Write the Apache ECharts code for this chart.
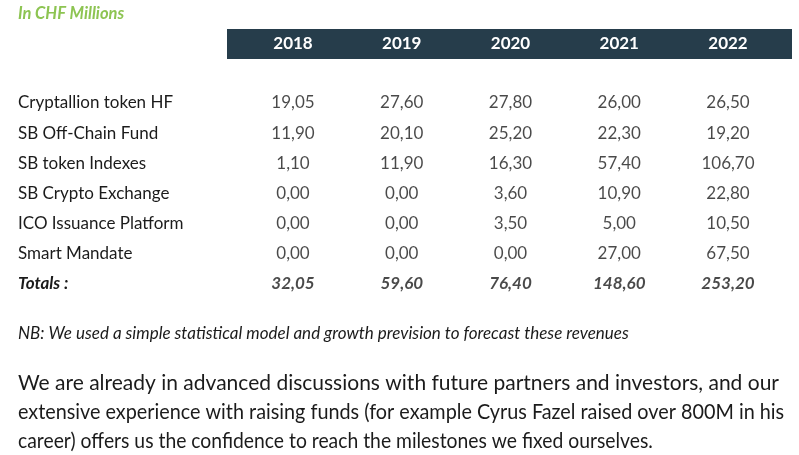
<!DOCTYPE html>
<html>
<head>
<meta charset="utf-8">
<script src="https://cdn.jsdelivr.net/npm/echarts@6/dist/echarts.min.js"></script>
<style>
  html, body { margin: 0; padding: 0; background: #fff; }
  #chart { width: 799px; height: 455px; }
</style>
</head>
<body>
<div id="chart"></div>
<script>
// table data, in CHF millions
var years = ['2018', '2019', '2020', '2021', '2022']
var rowNames = [
  'Cryptallion token HF',
  'SB Off-Chain Fund',
  'SB token Indexes',
  'SB Crypto Exchange',
  'ICO Issuance Platform',
  'Smart Mandate'
]
var cryptallionHF = [19.05, 27.6, 27.8, 26.0, 26.5]
var offChainFund = [11.9, 20.1, 25.2, 22.3, 19.2]
var tokenIndexes = [1.1, 11.9, 16.3, 57.4, 106.7]
var cryptoExchange = [0.0, 0.0, 3.6, 10.9, 22.8]
var icoPlatform = [0.0, 0.0, 3.5, 5.0, 10.5]
var smartMandate = [0.0, 0.0, 0.0, 27.0, 67.5]
var totals = [32.05, 59.6, 76.4, 148.6, 253.2]
var totalsLabel = 'Totals :'

var rows = [cryptallionHF, offChainFund, tokenIndexes, cryptoExchange, icoPlatform, smartMandate]

var textColor = '#1b1b1b'
var font = 'Lato, "Open Sans", sans-serif'

function fmt(v) {
  return v.toFixed(2).replace('.', ',')
}

// cells -> [colIndex, rowIndex, value]
var cells = []
rows.forEach(function (r, ri) {
  r.forEach(function (v, ci) {
    cells.push([ci, ri, v])
  })
})
var totalCells = totals.map(function (v, ci) {
  return [ci, rows.length, v]
})

// paragraph lines, each squeezed a bit like the scanned page
function para(text, y, sx) {
  return {
    type: 'text',
    x: 18,
    y: y,
    scaleX: sx,
    style: { text: text, fill: textColor, font: '21px ' + font }
  }
}

var chart = echarts.init(document.getElementById('chart'))
var option = {
  backgroundColor: '#fff',
  animation: false,
  grid: {
    left: 293,
    right: 71,
    top: 103,
    bottom: 171
  },
  xAxis: {
    type: 'category',
    position: 'top',
    data: years,
    boundaryGap: false,
    axisLine: { show: false },
    axisTick: { show: false },
    splitLine: { show: false },
    axisLabel: {
      margin: 59,
      verticalAlign: 'middle',
      color: '#fff',
      fontFamily: font,
      fontWeight: 'bold',
      fontSize: 17
    },
    z: 10
  },
  yAxis: {
    type: 'category',
    inverse: true,
    data: rowNames.concat([totalsLabel]),
    boundaryGap: false,
    axisLine: { show: false },
    axisTick: { show: false },
    splitLine: { show: false },
    axisLabel: {
      margin: 275,
      align: 'left',
      color: textColor,
      fontFamily: font,
      fontSize: 17,
      formatter: function (v) {
        return v === totalsLabel ? '{t|' + v + '}' : v
      },
      rich: {
        t: {
          fontFamily: font,
          fontSize: 17,
          fontWeight: 'bold',
          fontStyle: 'italic',
          color: textColor
        }
      }
    }
  },
  graphic: [
    {
      type: 'text',
      left: 18,
      top: 5,
      style: {
        text: 'In CHF Millions',
        fill: '#8dc452',
        font: 'italic bold 16.5px ' + font
      }
    },
    {
      // header band behind the year labels
      type: 'rect',
      left: 227,
      top: 29,
      shape: { width: 565, height: 30 },
      style: { fill: '#263d4b' },
      z: -1
    },
    {
      type: 'text',
      left: 18,
      top: 325,
      style: {
        text: 'NB: We used a simple statistical model and growth prevision to forecast these revenues',
        fill: textColor,
        font: 'italic 17px ' + font
      }
    },
    para('We are already in advanced discussions with future partners and investors, and our', 373, 1.0),
    para('extensive experience with raising funds (for example Cyrus Fazel raised over 800M in his', 402, 0.943),
    para('career) offers us the confidence to reach the milestones we fixed ourselves.', 431, 0.92)
  ],
  series: [
    {
      name: 'values',
      type: 'scatter',
      symbolSize: 0,
      data: cells,
      label: {
        show: true,
        position: 'inside',
        color: textColor,
        fontFamily: font,
        fontSize: 17,
        formatter: function (p) {
          return fmt(p.value[2])
        }
      }
    },
    {
      name: 'totals',
      type: 'scatter',
      symbolSize: 0,
      data: totalCells,
      label: {
        show: true,
        position: 'inside',
        color: textColor,
        fontFamily: font,
        fontSize: 17,
        fontWeight: 'bold',
        fontStyle: 'italic',
        formatter: function (p) {
          return fmt(p.value[2])
        }
      }
    }
  ]
}
chart.setOption(option)
</script>
</body>
</html>
